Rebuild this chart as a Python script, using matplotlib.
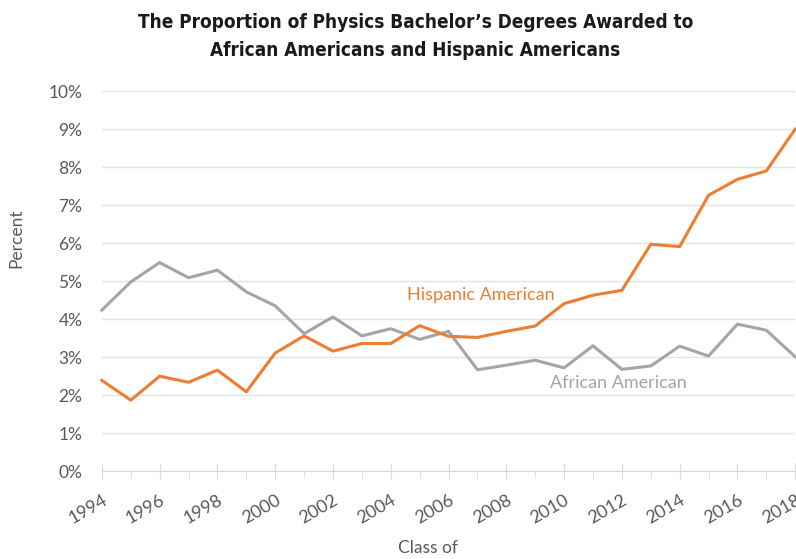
import matplotlib
matplotlib.use("Agg")
import matplotlib.pyplot as plt
from matplotlib import font_manager
import numpy as np

years = list(range(1994, 2019))
african_american = [4.24, 4.98, 5.49, 5.09, 5.29, 4.72, 4.35, 3.62, 4.06, 3.56,
                    3.75, 3.47, 3.68, 2.67, 2.79, 2.92, 2.72, 3.30, 2.68, 2.77,
                    3.29, 3.03, 3.87, 3.71, 3.01]
hispanic_american = [2.39, 1.87, 2.50, 2.34, 2.66, 2.09, 3.11, 3.56, 3.16, 3.36,
                     3.36, 3.83, 3.55, 3.52, 3.68, 3.82, 4.41, 4.63, 4.76, 5.97,
                     5.91, 7.26, 7.68, 7.90, 9.00]
y_ticks = list(range(0, 11))

orange = "#ED7D31"
gray = "#A5A5A5"
text_gray = "#595959"
font = "Lato"


# pick a condensed bold face for the title if one is installed
def title_font():
    for fam, stretch in [("Liberation Sans Narrow", "condensed"),
                         ("DejaVu Sans", "condensed")]:
        fp = font_manager.FontProperties(family=fam, weight="bold", stretch=stretch)
        try:
            path = font_manager.findfont(fp, fallback_to_default=False)
        except ValueError:
            continue
        if "Narrow" in path or "Condensed" in path:
            return font_manager.FontProperties(fname=path, size=13.6)
    return font_manager.FontProperties(family="Roboto", weight="bold", size=13.5)


fig = plt.figure(figsize=(7.96, 5.59), dpi=100)
ax = fig.add_axes([0.128, 0.157, 0.871, 0.68])

ax.plot(years, african_american, color=gray, lw=2.2, clip_on=False, zorder=3)
ax.plot(years, hispanic_american, color=orange, lw=2.2, clip_on=False, zorder=4)

ax.set_xlim(1994, 2018)
ax.set_ylim(0, 10)

# gridlines
ax.set_yticks(y_ticks)
ax.set_yticklabels([f"{v}%" for v in y_ticks], fontsize=12.5, color=text_gray, family=font)
ax.yaxis.grid(True, color="#E3E3E3", lw=1)
ax.tick_params(axis="y", length=0, pad=14)
ax.set_axisbelow(True)

ax.set_xticks(years[::2])
ax.set_xticks(years, minor=True)
ax.set_xticklabels([str(y) for y in years[::2]], fontsize=13, color=text_gray,
                   family=font, rotation=30, ha="right", rotation_mode="anchor")
ax.tick_params(axis="x", which="major", direction="inout", length=12, color="#D9D9D9", pad=9)
ax.tick_params(axis="x", which="minor", direction="out", length=5, color="#D9D9D9")

for s in ["top", "right", "left"]:
    ax.spines[s].set_visible(False)
ax.spines["bottom"].set_color("#D9D9D9")

ax.text(2004.55, 4.5, "Hispanic American", color=orange, fontsize=13, family=font)
ax.text(2009.5, 2.2, "African American", color=gray, fontsize=13, family=font)

fig.text(0.021, 0.573, "Percent", rotation=90, va="center", ha="center",
         fontsize=12.5, color=text_gray, family=font)
fig.text(0.538, 0.02, "Class of", ha="center", va="center", fontsize=12.5,
         color=text_gray, family=font)

fig.text(0.522, 0.934, "The Proportion of Physics Bachelor\u2019s Degrees Awarded to\n"
         "African Americans and Hispanic Americans", ha="center", va="center",
         fontproperties=title_font(), color="#1a1a1a", linespacing=1.6)

fig.savefig("out.png", dpi=100)
